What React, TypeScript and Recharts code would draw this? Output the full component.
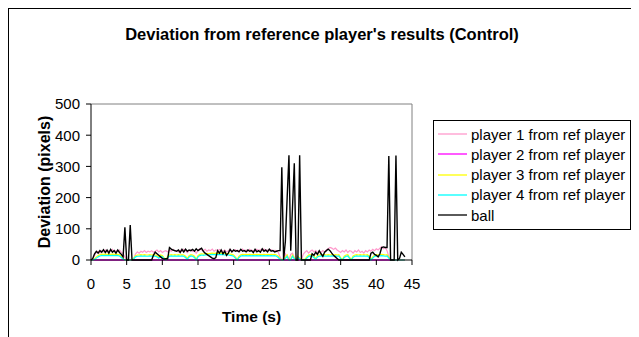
import React from "react";
import { LineChart, Line, XAxis, YAxis, ReferenceLine, Legend } from "recharts";

const time = [
  0, 0.25, 0.5, 0.75, 1, 1.25, 1.5, 1.75,
  2, 2.25, 2.5, 2.75, 3, 3.25, 3.5, 3.75,
  4, 4.25, 4.5, 4.75, 5, 5.25, 5.5, 5.75,
  6, 6.25, 6.5, 6.75, 7, 7.25, 7.5, 7.75,
  8, 8.25, 8.5, 8.75, 9, 9.25, 9.5, 9.75,
  10, 10.25, 10.5, 10.75, 11, 11.25, 11.5, 11.75,
  12, 12.25, 12.5, 12.75, 13, 13.25, 13.5, 13.75,
  14, 14.25, 14.5, 14.75, 15, 15.25, 15.5, 15.75,
  16, 16.25, 16.5, 16.75, 17, 17.25, 17.5, 17.75,
  18, 18.25, 18.5, 18.75, 19, 19.25, 19.5, 19.75,
  20, 20.25, 20.5, 20.75, 21, 21.25, 21.5, 21.75,
  22, 22.25, 22.5, 22.75, 23, 23.25, 23.5, 23.75,
  24, 24.25, 24.5, 24.75, 25, 25.25, 25.5, 25.75,
  26, 26.25, 26.5, 26.75, 27, 27.25, 27.5, 27.75,
  28, 28.25, 28.5, 28.75, 29, 29.25, 29.5, 29.75,
  30, 30.25, 30.5, 30.75, 31, 31.25, 31.5, 31.75,
  32, 32.25, 32.5, 32.75, 33, 33.25, 33.5, 33.75,
  34, 34.25, 34.5, 34.75, 35, 35.25, 35.5, 35.75,
  36, 36.25, 36.5, 36.75, 37, 37.25, 37.5, 37.75,
  38, 38.25, 38.5, 38.75, 39, 39.25, 39.5, 39.75,
  40, 40.25, 40.5, 40.75, 41, 41.25, 41.5, 41.75,
  42, 42.25, 42.5, 42.75, 43, 43.25, 43.5, 43.75,
  44,
];

const player1 = [
  0, 3, 15, 25, 28, 22, 30, 26,
  32, 25, 30, 28, 34, 26, 30, 28,
  32, 25, 20, 10, 0, 0, 0, 0,
  5, 20, 26, 22, 28, 25, 30, 24,
  28, 26, 30, 25, 28, 32, 26, 30,
  24, 28, 30, 26, 32, 28, 34, 28,
  30, 26, 32, 28, 34, 30, 24, 30,
  32, 28, 30, 22, 30, 36, 32, 30,
  34, 28, 32, 30, 35, 28, 32, 30,
  34, 30, 28, 32, 26, 30, 34, 28,
  30, 33, 28, 31, 30, 35, 29, 32,
  28, 34, 30, 31, 27, 34, 30, 33,
  31, 35, 28, 32, 30, 33, 29, 31,
  30, 25, 10, 0, 5, 20, 10, 0,
  18, 22, 8, 0, 10, 5, 0, 18,
  25, 30, 22, 28, 32, 26, 30, 24,
  28, 24, 30, 26, 32, 36, 40, 38,
  34, 38, 32, 28, 24, 30, 26, 32,
  24, 30, 28, 22, 30, 26, 32, 24,
  28, 22, 30, 26, 32, 28, 34, 30,
  36, 32, 38, 42, 36, 40, 30, 10,
  0, 0, 0, 0, 0, 0, 0, 0,
  0,
];

const player2 = [
  0, 0, 0, 0, 0, 0, 0, 0,
  0, 0, 0, 0, 0, 0, 0, 0,
  0, 0, 0, 0, 0, 0, 0, 0,
  0, 0, 0, 0, 0, 0, 0, 0,
  0, 0, 0, 0, 0, 0, 0, 0,
  0, 0, 0, 0, 0, 0, 0, 0,
  0, 0, 0, 0, 0, 0, 0, 0,
  0, 0, 0, 0, 0, 0, 0, 0,
  0, 0, 0, 0, 0, 0, 0, 0,
  0, 0, 0, 0, 0, 0, 0, 0,
  0, 0, 0, 0, 0, 0, 0, 0,
  0, 0, 0, 0, 0, 0, 0, 0,
  0, 0, 0, 0, 0, 0, 0, 0,
  0, 0, 0, 0, 0, 0, 0, 0,
  0, 0, 0, 0, 0, 0, 0, 0,
  0, 0, 0, 0, 0, 0, 0, 0,
  0, 0, 0, 0, 0, 0, 0, 0,
  0, 0, 0, 0, 0, 0, 0, 0,
  0, 0, 0, 0, 0, 0, 0, 0,
  0, 0, 0, 0, 0, 0, 0, 0,
  0, 0, 0, 0, 0, 0, 0, 0,
  0, 0, 0, 0, 0, 0, 0, 0,
  0,
];

const player3 = [
  0, 0, 4, 10, 14, 17, 19, 18,
  19, 18, 19, 18, 19, 18, 19, 18,
  17, 12, 5, 0, 0, 0, 0, 0,
  6, 14, 16, 16, 17, 16, 17, 16,
  16, 17, 16, 17, 16, 14, 10, 16,
  14, 7, 1, 12, 16, 17, 16, 17,
  16, 17, 16, 17, 16, 12, 5, 14,
  17, 16, 12, 2, 14, 18, 20, 19,
  20, 21, 20, 21, 22, 21, 22, 21,
  21, 22, 21, 20, 21, 20, 19, 18,
  16, 9, 2, 12, 17, 18, 17, 18,
  17, 18, 17, 18, 17, 18, 17, 18,
  17, 18, 17, 18, 17, 18, 17, 18,
  16, 12, 4, 0, 2, 9, 16, 2,
  3, 16, 7, 0, 12, 6, 0, 2,
  2, 10, 16, 17, 16, 12, 5, 14,
  16, 17, 16, 17, 16, 17, 16, 17,
  16, 17, 16, 17, 7, 1, 12, 16,
  17, 8, 1, 13, 16, 17, 16, 17,
  16, 17, 16, 17, 12, 2, 10, 16,
  17, 16, 17, 18, 17, 16, 17, 9,
  0, 0, 0, 0, 0, 0, 0, 0,
  0,
];

const player4 = [
  0, 0, 2, 6, 10, 13, 15, 14,
  15, 14, 15, 14, 15, 14, 15, 14,
  13, 8, 3, 0, 0, 0, 0, 0,
  4, 10, 12, 12, 13, 12, 13, 12,
  12, 13, 12, 13, 12, 10, 6, 12,
  10, 4, 0, 8, 12, 13, 12, 13,
  12, 13, 12, 13, 12, 8, 2, 10,
  13, 12, 8, 0, 10, 14, 16, 15,
  16, 17, 16, 17, 18, 17, 18, 17,
  17, 18, 17, 16, 17, 16, 15, 14,
  12, 6, 0, 8, 13, 14, 13, 14,
  13, 14, 13, 14, 13, 14, 13, 14,
  13, 14, 13, 14, 13, 14, 13, 14,
  12, 8, 2, 0, 0, 5, 12, 0,
  0, 12, 4, 0, 8, 3, 0, 0,
  0, 6, 12, 13, 12, 8, 2, 10,
  12, 13, 12, 13, 12, 13, 12, 13,
  12, 13, 12, 13, 4, 0, 8, 12,
  13, 5, 0, 9, 12, 13, 12, 13,
  12, 13, 12, 13, 8, 0, 6, 12,
  13, 12, 13, 14, 13, 12, 13, 6,
  0, 0, 0, 0, 0, 0, 0, 0,
  0,
];

const ball = [
  0, 5, 20, 28, 22, 30, 25, 33,
  24, 32, 22, 34, 25, 30, 22, 32,
  24, 18, 10, 105, 0, 0, 112, 0,
  0, 0, 0, 0, 0, 0, 0, 0,
  0, 0, 0, 15, 25, 20, 15, 10,
  5, 3, 4, 4, 40, 35, 32, 30,
  28, 32, 24, 34, 26, 35, 28, 32,
  30, 34, 28, 36, 30, 34, 38, 28,
  22, 18, 14, 10, 6, 4, 8, 30,
  22, 32, 20, 28, 15, 22, 34, 26,
  32, 28, 30, 26, 34, 28, 30, 26,
  32, 28, 30, 24, 34, 26, 30, 25,
  36, 28, 32, 26, 35, 28, 30, 26,
  28, 30, 30, 297, 0, 60, 200, 336,
  30, 170, 310, 0, 0, 336, 0, 0,
  0, 0, 0, 0, 20, 15, 25, 18,
  30, 20, 12, 25, 30, 35, 30, 22,
  15, 10, 5, 0, 0, 0, 0, 0,
  0, 0, 0, 0, 0, 0, 0, 0,
  0, 0, 0, 0, 0, 22, 25, 18,
  15, 10, 20, 40, 42, 40, 40, 333,
  0, 0, 0, 335, 0, 5, 25, 18,
  10,
];

const xTicks = [0, 5, 10, 15, 20, 25, 30, 35, 40, 45];
const yTicks = [0, 100, 200, 300, 400, 500];

const seriesNames = [
  "player 1 from ref player",
  "player 2 from ref player",
  "player 3 from ref player",
  "player 4 from ref player",
  "ball",
];

const data = time.map((t, i) => ({
  t,
  p1: player1[i],
  p2: player2[i],
  p3: player3[i],
  p4: player4[i],
  ball: ball[i],
}));

const FONT = "'Liberation Sans', Arial, Helvetica, sans-serif";

const renderLegend = (props: any) => {
  const payload = [...(props.payload || [])].sort(
    (a: any, b: any) => seriesNames.indexOf(a.value) - seriesNames.indexOf(b.value)
  );
  return (
    <div
      style={{
        border: "1px solid #000",
        background: "#fff",
        padding: "3px 0 4px 0",
        boxSizing: "border-box",
        width: 198,
        fontFamily: FONT,
        fontSize: 15,
        color: "#000",
        overflow: "hidden",
      }}
    >
      {payload.map((entry: any, idx: number) => (
        <div
          key={idx}
          style={{ height: 20.25, display: "flex", alignItems: "center", whiteSpace: "nowrap" }}
        >
          <svg width={37} height={20} style={{ flex: "none" }}>
            <line x1={4} y1={10} x2={33} y2={10} stroke={entry.color} strokeWidth={1.3} />
          </svg>
          <span>{entry.value}</span>
        </div>
      ))}
    </div>
  );
};

export default function App() {
  return (
    <div
      style={{
        position: "relative",
        width: 624,
        height: 335,
        border: "1px solid #000",
        boxSizing: "border-box",
        fontFamily: FONT,
        background: "#fff",
      }}
    >
      <div
        style={{
          position: "absolute",
          top: 15,
          left: 4,
          width: 618,
          textAlign: "center",
          fontSize: 16.5,
          fontWeight: "bold",
          lineHeight: "20px",
          color: "#000",
        }}
      >
        Deviation from reference player's results (Control)
      </div>
      <div style={{ position: "absolute", top: 0, left: 0 }}>
        <LineChart
          width={622}
          height={330}
          data={data}
          margin={{ top: 95, right: 219, bottom: 49, left: 0 }}
        >
          <XAxis
            dataKey="t"
            type="number"
            domain={[0, 45]}
            ticks={xTicks}
            interval={0}
            height={30}
            tickSize={5}
            tickMargin={13}
            axisLine={{ stroke: "#000" }}
            tickLine={{ stroke: "#000" }}
            tick={{ fill: "#000", fontSize: 15, fontFamily: FONT }}
            label={{
              value: "Time (s)",
              position: "bottom",
              offset: 21,
              style: { fill: "#000", fontSize: 15.5, fontWeight: "bold", fontFamily: FONT },
            }}
          />
          <YAxis
            type="number"
            domain={[0, 500]}
            ticks={yTicks}
            interval={0}
            width={82}
            tickSize={5}
            tickMargin={6}
            axisLine={{ stroke: "#000" }}
            tickLine={{ stroke: "#000" }}
            tick={{ fill: "#000", fontSize: 15, fontFamily: FONT }}
            label={{
              value: "Deviation (pixels)",
              angle: -90,
              position: "insideLeft",
              offset: 35,
              style: {
                fill: "#000",
                fontSize: 16,
                fontWeight: "bold",
                fontFamily: FONT,
                textAnchor: "middle",
              },
            }}
          />
          <ReferenceLine y={500} stroke="#808080" strokeWidth={1} />
          <ReferenceLine x={45} stroke="#808080" strokeWidth={1} />
          <Line
            name={seriesNames[0]}
            dataKey="p1"
            stroke="#FF99CC"
            strokeWidth={1.2}
            dot={false}
            isAnimationActive={false}
          />
          <Line
            name={seriesNames[1]}
            dataKey="p2"
            stroke="#FF00FF"
            strokeWidth={1.5}
            dot={false}
            isAnimationActive={false}
          />
          <Line
            name={seriesNames[2]}
            dataKey="p3"
            stroke="#FFFF00"
            strokeWidth={1.2}
            dot={false}
            isAnimationActive={false}
          />
          <Line
            name={seriesNames[3]}
            dataKey="p4"
            stroke="#00FFFF"
            strokeWidth={1.2}
            dot={false}
            isAnimationActive={false}
          />
          <Line
            name={seriesNames[4]}
            dataKey="ball"
            stroke="#000000"
            strokeWidth={1.4}
            dot={false}
            isAnimationActive={false}
          />
          <Legend
            layout="vertical"
            align="center"
            verticalAlign="middle"
            content={renderLegend}
            wrapperStyle={{ left: 424, top: 111, width: 198, height: 108 }}
          />
        </LineChart>
      </div>
    </div>
  );
}
